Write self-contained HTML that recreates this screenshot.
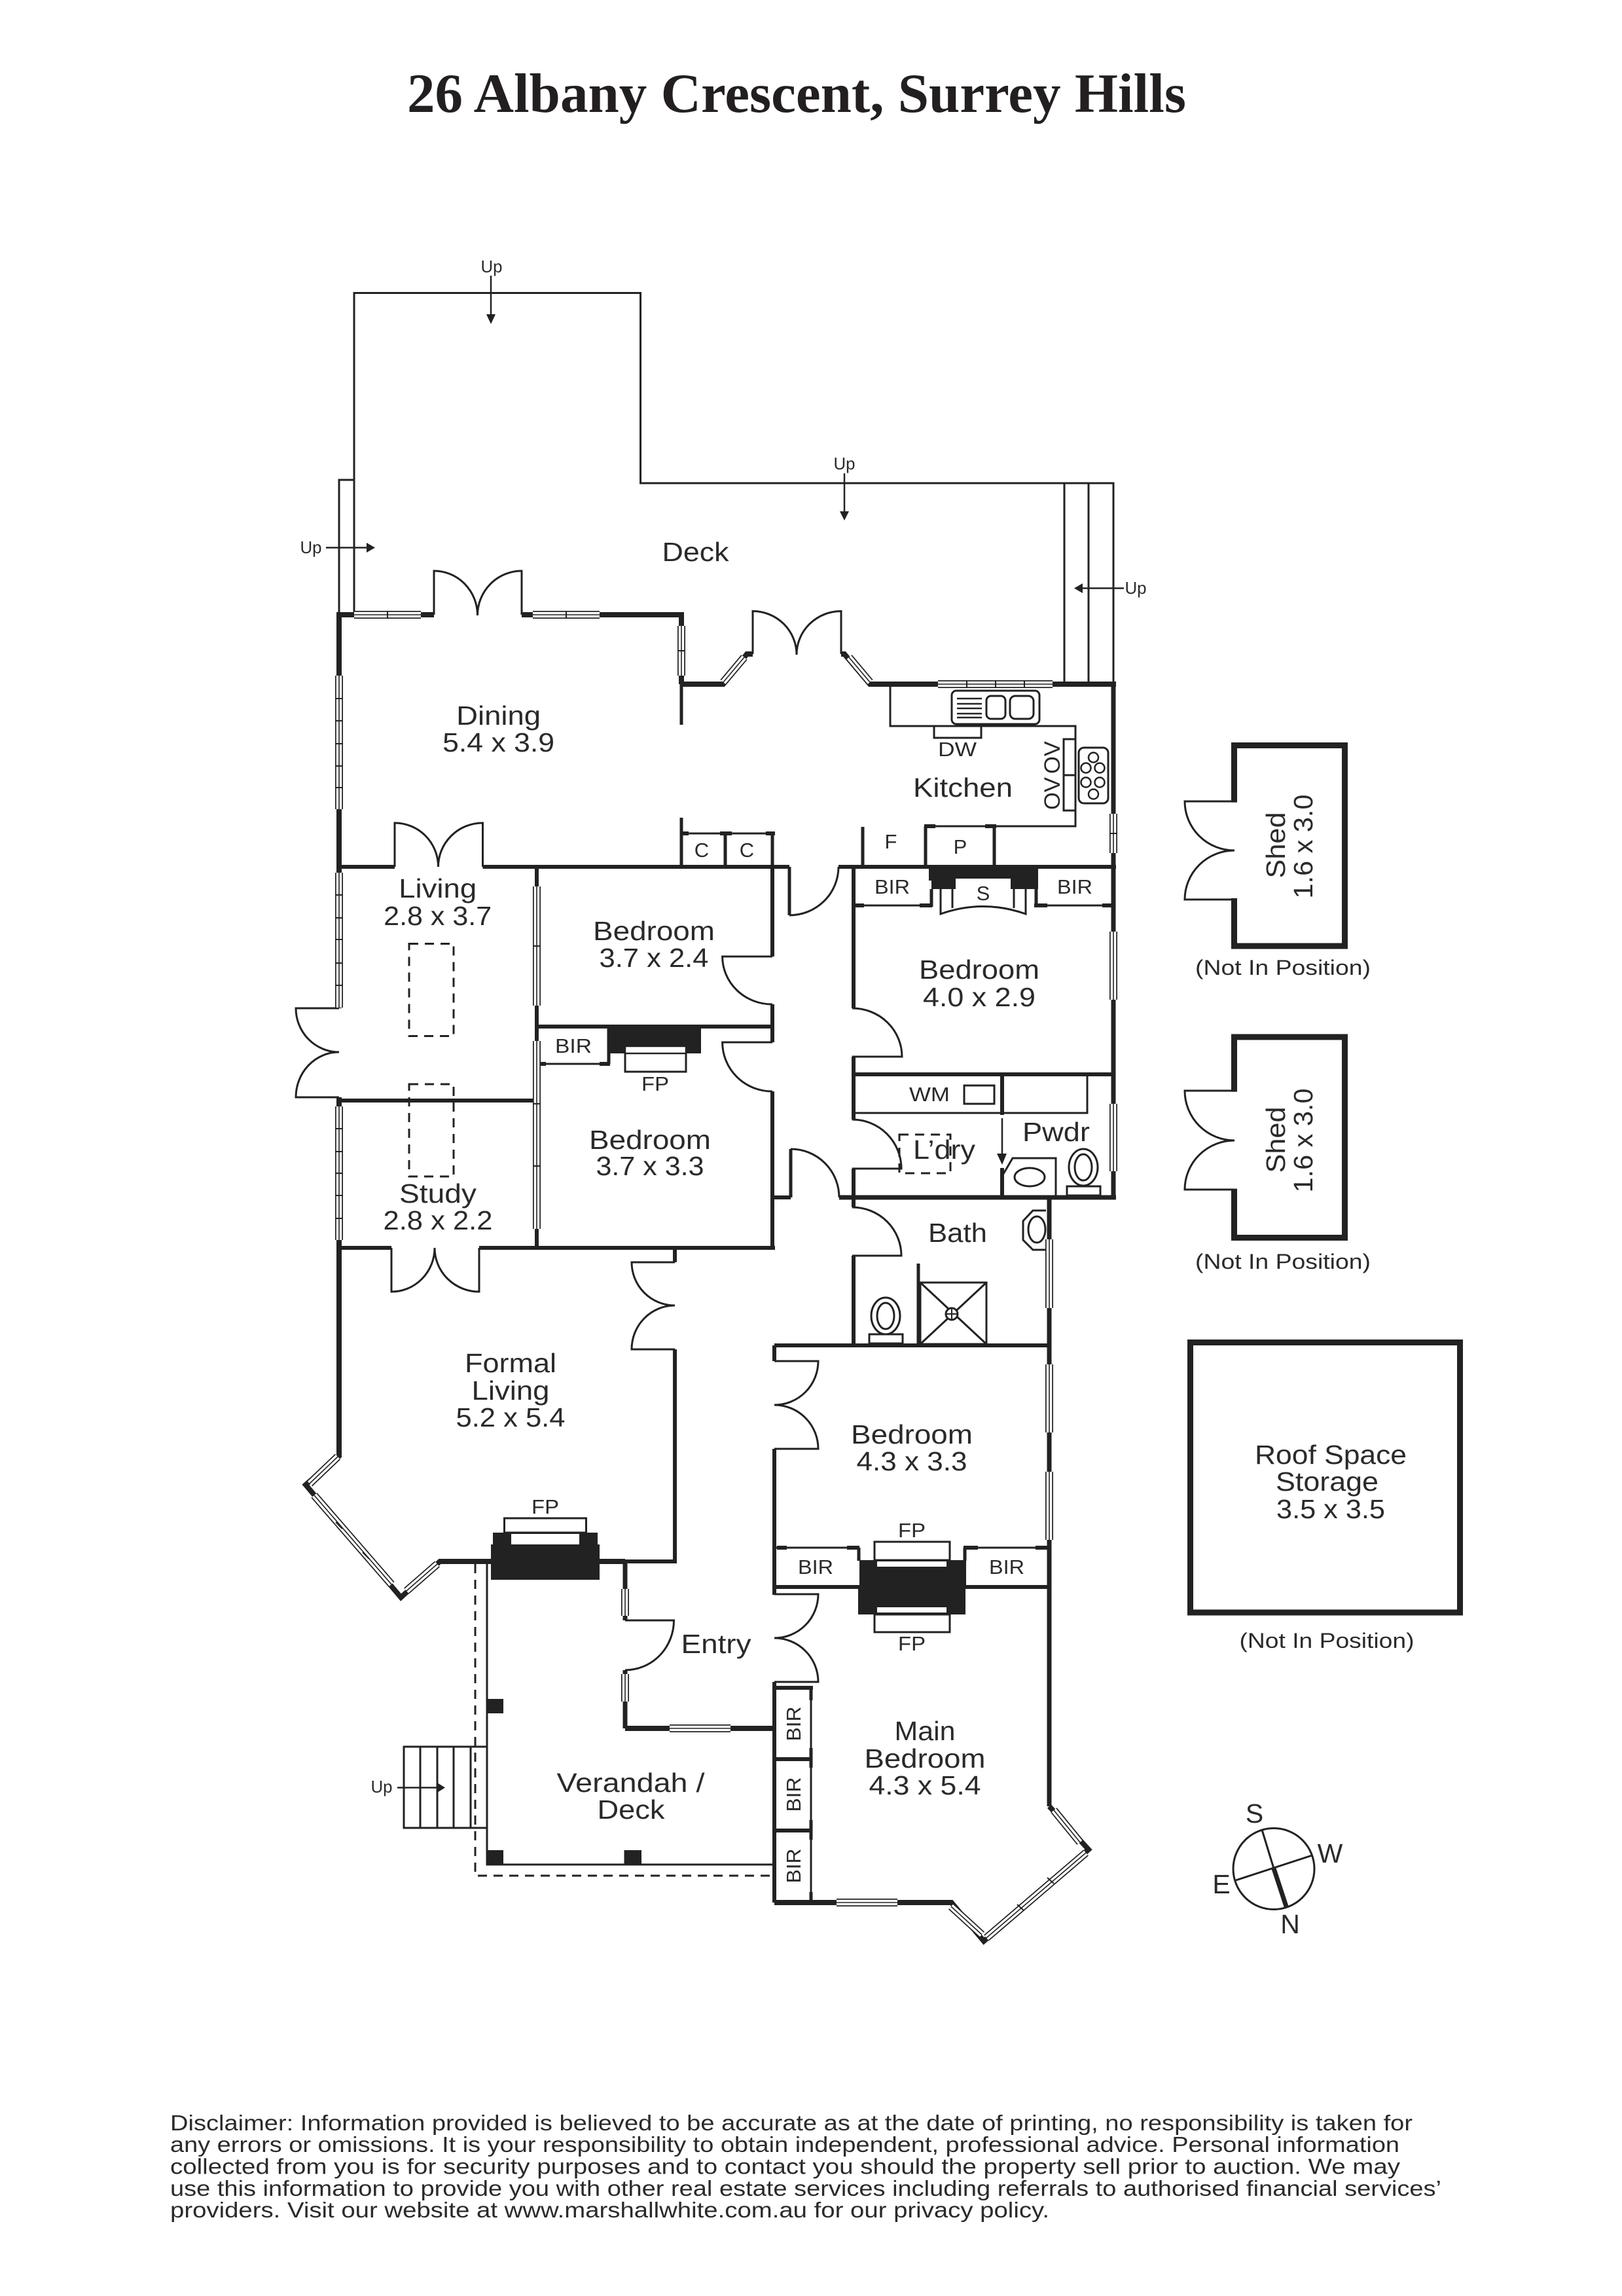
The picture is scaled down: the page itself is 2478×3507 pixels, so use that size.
<!DOCTYPE html>
<html><head><meta charset="utf-8"><title>26 Albany Crescent, Surrey Hills</title>
<style>
html,body{margin:0;padding:0;background:#fff}
svg{display:block}
text{font-family:"Liberation Sans",sans-serif;fill:#2a2a2a;text-anchor:middle}
.l{font-size:41px}.s{font-size:31px}.u{font-size:26px}.n{font-size:32px}
.d{font-size:33px;text-anchor:start}
.t{font-family:"Liberation Serif",serif;font-weight:bold;font-size:85px;fill:#231f20;text-anchor:start}
</style></head><body>
<svg xmlns="http://www.w3.org/2000/svg" width="2478" height="3507" viewBox="0 0 2478 3507">
<defs>
<path id="w" fill="none" d="M541 939H643M814 939H916M1041 956V1032M1105 1042L1137 1004M1297 1004L1329 1042M1433 1045H1608M1701 1243V1303M1701 1423V1527M1701 1686V1789M518 1032V1236M518 1333V1539M518 1690V1894M820 1354V1536M820 1590V1877M1603 1893V1998M1603 2084V2188M1603 2248V2352M955 2427V2468M955 2557V2599M1023 2640H1116M1278 2906H1371M1610 2765L1650 2814M1659 2830L1507 2960M1453 2912L1500 2955M516 2225L473 2266M480 2284L598 2420M621 2430L668 2389"/>
</defs>
<rect width="2478" height="3507" fill="#fff"/>

<text class="t" x="622" y="171" textLength="1190" lengthAdjust="spacingAndGlyphs">26 Albany Crescent, Surrey Hills</text>

<!-- deck thin outlines -->
<g fill="none" stroke="#222" stroke-width="3">
<path d="M541 939V447.5H978.5V738H1701V1042M518 939V733H541M1626 738V1042M1663 738V1042"/>
<!-- counters / fixtures -->
<path d="M1360 1048V1109H1643V1262H1413M1427 1109V1127H1499V1109"/>
<rect x="1625" y="1129" width="18" height="109"/><path d="M1625 1184H1643"/>
<rect x="1454" y="1055" width="134" height="51" rx="7"/>
<rect x="1507" y="1063" width="29" height="35" rx="7"/><rect x="1543" y="1063" width="36" height="35" rx="8"/>
<path d="M1462 1067H1500M1462 1075H1500M1462 1082H1500M1462 1090H1500M1462 1096H1500" stroke-width="2.5"/>
<rect x="1648" y="1142" width="45" height="85" rx="8"/>
<g stroke-width="2.5"><circle cx="1670.5" cy="1157" r="7.5"/><circle cx="1659" cy="1173" r="7.5"/><circle cx="1680" cy="1173" r="7.5"/><circle cx="1659" cy="1195" r="7.5"/><circle cx="1680" cy="1195" r="7.5"/><circle cx="1670.5" cy="1213" r="7.5"/></g>
<path d="M1041 1273H1180"/>
<path d="M1304 1383H1420M1585 1383H1701M823 1625H930"/>
<path d="M1437 1358V1396Q1502 1373 1567 1396V1358M1455 1358V1387M1549 1358V1387"/>
<rect x="955" y="1598" width="93" height="39"/>
<path d="M1304 1700H1661V1643"/>
<rect x="1473" y="1658" width="46" height="28"/>
<path d="M1533 1793L1547 1769H1613V1828"/>
<ellipse cx="1573" cy="1798" rx="23" ry="14"/>
<ellipse cx="1655" cy="1783" rx="22" ry="28"/><ellipse cx="1655" cy="1783" rx="13" ry="20"/>
<rect x="1630" y="1812" width="51" height="14"/>
<path d="M1598 1849H1578L1563 1865V1894L1578 1909H1597"/><ellipse cx="1584" cy="1878" rx="13" ry="20"/>
<rect x="1406" y="1959" width="101" height="94"/><path d="M1406 1959L1507 2053M1507 1959L1406 2053"/>
<circle cx="1454" cy="2007" r="9" fill="#fff"/><path d="M1445 2007H1463M1454 1998V2016" stroke-width="2"/>
<ellipse cx="1353" cy="2010" rx="22" ry="28"/><ellipse cx="1353" cy="2010" rx="13" ry="20"/>
<rect x="1328" y="2038" width="51" height="14"/>
<rect x="770.5" y="2319" width="125" height="22"/>
<rect x="1336" y="2355" width="115" height="28"/><rect x="1336" y="2466" width="115" height="27"/>
<path d="M1183 2364H1312M1474 2364H1603"/>
<path d="M744 2385V2848H1181"/>
<path d="M617 2668H744V2792H617ZM642 2668V2792M668 2668V2792M693 2668V2792M719 2668V2792"/>
<path d="M1239 2579V2906" />
<!-- dashed -->
<g stroke-dasharray="14 10"><rect x="625" y="1441.5" width="68" height="141"/><rect x="625" y="1656" width="68" height="141"/><rect x="1374" y="1733" width="78" height="59"/><path d="M726 2389V2865H1181"/></g>
</g>

<!-- walls: exterior -->
<g fill="none" stroke="#222" stroke-width="8" stroke-miterlimit="6">
<path d="M514 939H663M797 939H1041V1045M1041 1045H1105L1141 999H1150M1285 999H1290L1329 1045H1705"/>
<path d="M518 935V1540M518 1676V2224L467 2268L612.5 2440L672 2385H955"/>
<path d="M1603 2759L1663 2825L1503 2965L1453.6 2906H1183"/>
<path d="M955 2640H1183"/>
</g>
<!-- walls: interior -->
<g fill="none" stroke="#222" stroke-width="6" stroke-miterlimit="6">
<path d="M1701 1042V1829M1600 1829H1705M1282 1829H1600" stroke-width="7"/>
<path d="M1603 1829V2759" stroke-width="7"/>
<path d="M955 2385H1031V2061M1031 1906V1928"/>
<path d="M518 1324H603M737.5 1324H1206M1281 1324H1705"/>
<path d="M820 1324V1906M820 1568H1180M518 1681H820M514 1906H598M732 1906H1184"/>
<path d="M1180 1324V1461M1180 1534V1592M1180 1667V1906M1180 1829H1208"/>
<path d="M1304 1321V1540M1304 1614V1710M1304 1785V1844M1304 1918V2055M1304 1641H1701"/>
<path d="M1531 1641V1703M1531 1784V1829"/>
<path d="M1183 2055H1603M1183 2055V2079M1183 2213V2436M1183 2424H1603M1183 2569V2906"/>
<path d="M955 2385V2475M955 2551V2640" stroke-width="7"/>
<path d="M1403 1930V2055" stroke-width="5"/>
<path d="M1183 2578H1242M1183 2687H1239M1183 2796H1239"/>
<path d="M1239 2578V2597M1239 2670V2700M1239 2780V2810M1239 2890V2906" stroke-width="5"/>
<path d="M1187 2364H1202M1294 2364H1313M1472 2364H1494M1582 2364H1600M1304 1383H1320M1405 1383H1424M1580 1383H1600M1684 1383H1701M1041 1273H1052M1100 1273H1118M1170 1273H1184M1412 1262H1429M1505 1262H1522M823 1625H834M916 1625H932"/>
<path d="M1180 1273V1324M1108 1273V1324M1041 1249V1324M1041 1045V1107M1318 1263V1324M1414 1262V1324M1519 1262V1324" stroke-width="5"/>
<path d="M1206 1324V1398M1208 1829V1755M930 1568V1625M1423 1358V1385M1583 1358V1385M1312 2364V2384M1474 2364V2384" stroke-width="5"/>
<path d="M1885.5 1225.6V1138.5H2054.5V1445H1885.5V1372M1885.5 1667.6V1584H2054.5V1890.5H1885.5V1815.6" stroke-width="9"/>
<rect x="1818.5" y="2050.5" width="412" height="412.5" stroke-width="9"/>
</g>

<!-- door jambs and arcs -->
<g fill="none" stroke="#222" stroke-width="3">
<path d="M663 939V872A66.5 68 0 0 1 729.5 940M797 939V872A67.5 68 0 0 0 729.5 940"/>
<path d="M1150 999V933.5A67 66.5 0 0 1 1217 1000M1285 999V933.5A68 66.5 0 0 0 1217 1000"/>
<path d="M603 1324V1257A66.5 67 0 0 1 669.5 1324M737.5 1324V1257A68 67 0 0 0 669.5 1324"/>
<path d="M598 1906V1973A66 67 0 0 0 664 1906M732 1906V1973A68 67 0 0 1 664 1906"/>
<path d="M518 1540H452A66 67 0 0 0 518 1607A66 69 0 0 0 452 1676H518"/>
<path d="M1206 1398A75 74 0 0 0 1281 1324"/>
<path d="M1180 1461H1103.6A76 73 0 0 0 1180 1534"/>
<path d="M1180 1592H1103.6A76 75 0 0 0 1180 1667"/>
<path d="M1302 1540A76 74 0 0 1 1378 1614H1302"/>
<path d="M1302 1710A75 75 0 0 1 1377 1785H1302"/>
<path d="M1208 1755A74 74 0 0 1 1282 1829"/>
<path d="M1302 1844A75 74 0 0 1 1377 1918H1302"/>
<path d="M1031 1928H965A66 66 0 0 0 1031 1994A66 67 0 0 0 965 2061H1031"/>
<path d="M1183 2079H1250A67 67 0 0 1 1183 2146A67 67 0 0 1 1250 2213H1183"/>
<path d="M1183 2435H1250A67 67 0 0 1 1183 2502A67 67 0 0 1 1250 2569H1183"/>
<path d="M955 2475H1029.5A74.5 76 0 0 1 955 2551"/>
<path d="M1885 1224H1810A76 75 0 0 0 1886 1299A76 75 0 0 0 1810 1374H1885"/>
<path d="M1885 1666H1810A76 76 0 0 0 1886 1742A76 75 0 0 0 1810 1817H1885"/>
</g>

<!-- chimneys and posts -->
<g fill="#222">
<path d="M1419 1324H1586V1358H1544V1342H1460V1358H1423V1345H1419Z"/>
<rect x="929.5" y="1568" width="141.5" height="41"/>
<rect x="753" y="2341" width="160" height="20"/><rect x="750" y="2359" width="166" height="54"/>
<rect x="1313" y="2383" width="163" height="41"/><rect x="1311" y="2424" width="164" height="42"/>
<rect x="744" y="2595" width="25" height="22"/><rect x="744" y="2826" width="25" height="22"/><rect x="953.5" y="2826" width="26.5" height="22"/>
</g>
<g fill="#fff">
<rect x="781" y="2343" width="104" height="16"/>
<rect x="1340" y="2385" width="106" height="8"/><rect x="1340" y="2455" width="106" height="8"/>
</g>
<rect x="955" y="1598" width="93" height="11" fill="#fff" stroke="#222" stroke-width="2.5"/>

<!-- windows -->
<g fill="none">
<use href="#w" stroke="#222" stroke-width="12"/>
<use href="#w" stroke="#fff" stroke-width="8.5"/>
<use href="#w" stroke="#222" stroke-width="1.6"/>
</g>
<path fill="none" stroke="#222" stroke-width="2" d="M592 933V945M865 933V945M1477 1039V1051M1521 1039V1051M1565 1039V1051M1695 1273H1707M512 1067H524M512 1101H524M512 1136H524M512 1170H524M512 1203H524M512 1367H524M512 1402H524M512 1435H524M512 1471H524M512 1505H524M512 1724H524M512 1759H524M512 1792H524M512 1826H524M512 1861H524M814 1445H826M814 1686H826M814 1781H826M1035 994H1047M1600 2868L1610 2877M1554 2909L1564 2918M513 2325L523 2335M554 2371L564 2381"/>

<!-- arrows -->
<g stroke="#222" stroke-width="2.5" fill="none"><path d="M750 421V484M1290 723V785M498 836.5H562M1717 898.5H1650M607 2730.5H670M1531 1708V1764"/></g>
<g fill="#222">
<path d="M743 480H757L750 495ZM1283 781H1297L1290 795ZM560 829L573 836.5L560 844ZM1654 891L1641 898.5L1654 906ZM668 2723L680 2730.5L668 2738ZM1523 1762H1538L1531 1779Z"/>
</g>

<!-- compass -->
<g fill="none" stroke="#222" stroke-width="3">
<circle cx="1946" cy="2854.5" r="62"/>
<path d="M1928 2795L1946 2854M1888 2872L2004.5 2834"/>
<path d="M1946 2854L1965 2912" stroke-width="7"/>
</g>

<!-- labels -->
<g>
<text class="l" x="1062.5" y="857" textLength="102" lengthAdjust="spacingAndGlyphs">Deck</text>
<text class="l" x="761.6" y="1107" textLength="129" lengthAdjust="spacingAndGlyphs">Dining</text>
<text class="l" x="761.6" y="1148" textLength="171" lengthAdjust="spacingAndGlyphs">5.4 x 3.9</text>
<text class="l" x="1471" y="1217" textLength="152" lengthAdjust="spacingAndGlyphs">Kitchen</text>
<text class="l" x="668.7" y="1371" textLength="119" lengthAdjust="spacingAndGlyphs">Living</text>
<text class="l" x="668.7" y="1413" textLength="165" lengthAdjust="spacingAndGlyphs">2.8 x 3.7</text>
<text class="l" x="999" y="1436" textLength="186" lengthAdjust="spacingAndGlyphs">Bedroom</text>
<text class="l" x="999" y="1477" textLength="167" lengthAdjust="spacingAndGlyphs">3.7 x 2.4</text>
<text class="l" x="1496" y="1495" textLength="184" lengthAdjust="spacingAndGlyphs">Bedroom</text>
<text class="l" x="1496" y="1537" textLength="172" lengthAdjust="spacingAndGlyphs">4.0 x 2.9</text>
<text class="l" x="993" y="1755" textLength="186" lengthAdjust="spacingAndGlyphs">Bedroom</text>
<text class="l" x="993" y="1795" textLength="165" lengthAdjust="spacingAndGlyphs">3.7 x 3.3</text>
<text class="l" x="669" y="1837" textLength="118" lengthAdjust="spacingAndGlyphs">Study</text>
<text class="l" x="669" y="1878" textLength="167" lengthAdjust="spacingAndGlyphs">2.8 x 2.2</text>
<text class="l" x="780" y="2096" textLength="140" lengthAdjust="spacingAndGlyphs">Formal</text>
<text class="l" x="780" y="2138" textLength="119" lengthAdjust="spacingAndGlyphs">Living</text>
<text class="l" x="780" y="2179" textLength="167" lengthAdjust="spacingAndGlyphs">5.2 x 5.4</text>
<text class="l" x="1393" y="2205" textLength="186" lengthAdjust="spacingAndGlyphs">Bedroom</text>
<text class="l" x="1393" y="2246" textLength="169" lengthAdjust="spacingAndGlyphs">4.3 x 3.3</text>
<text class="l" x="1463" y="1897" textLength="90" lengthAdjust="spacingAndGlyphs">Bath</text>
<text class="l" x="1613.5" y="1743" textLength="103" lengthAdjust="spacingAndGlyphs">Pwdr</text>
<text class="l" x="1442.5" y="1770" textLength="95" lengthAdjust="spacingAndGlyphs">L’dry</text>
<text class="l" x="1094" y="2525" textLength="107" lengthAdjust="spacingAndGlyphs">Entry</text>
<text class="l" x="963.5" y="2737" textLength="226" lengthAdjust="spacingAndGlyphs">Verandah /</text>
<text class="l" x="964" y="2778" textLength="103" lengthAdjust="spacingAndGlyphs">Deck</text>
<text class="l" x="1413" y="2658" textLength="93" lengthAdjust="spacingAndGlyphs">Main</text>
<text class="l" x="1413" y="2700" textLength="185" lengthAdjust="spacingAndGlyphs">Bedroom</text>
<text class="l" x="1413" y="2741" textLength="171" lengthAdjust="spacingAndGlyphs">4.3 x 5.4</text>
<text class="l" x="2033" y="2236" textLength="232" lengthAdjust="spacingAndGlyphs">Roof Space</text>
<text class="l" x="2027.5" y="2277" textLength="157" lengthAdjust="spacingAndGlyphs">Storage</text>
<text class="l" x="2033" y="2319" textLength="166" lengthAdjust="spacingAndGlyphs">3.5 x 3.5</text>
<text class="l" transform="translate(1963 1291) rotate(-90)" textLength="101" lengthAdjust="spacingAndGlyphs">Shed</text>
<text class="l" transform="translate(2005 1293) rotate(-90)" textLength="159" lengthAdjust="spacingAndGlyphs">1.6 x 3.0</text>
<text class="l" transform="translate(1963 1741) rotate(-90)" textLength="101" lengthAdjust="spacingAndGlyphs">Shed</text>
<text class="l" transform="translate(2005 1742) rotate(-90)" textLength="159" lengthAdjust="spacingAndGlyphs">1.6 x 3.0</text>
<text class="l" x="1916.5" y="2784">S</text>
<text class="l" x="2032" y="2845">W</text>
<text class="l" x="1866" y="2892">E</text>
<text class="l" x="1971" y="2953">N</text>
</g>
<g>
<text class="s" x="1462.5" y="1155" textLength="59" lengthAdjust="spacingAndGlyphs">DW</text>
<text class="s" x="1361" y="1296">F</text>
<text class="s" x="1467" y="1304">P</text>
<text class="s" x="1072" y="1309">C</text>
<text class="s" x="1141" y="1309">C</text>
<text class="s" transform="translate(1619 1157) rotate(-90)" style="font-size:34px" textLength="50" lengthAdjust="spacingAndGlyphs">OV</text>
<text class="s" transform="translate(1619 1212) rotate(-90)" style="font-size:34px" textLength="50" lengthAdjust="spacingAndGlyphs">OV</text>
<text class="s" x="1363" y="1365" textLength="54" lengthAdjust="spacingAndGlyphs">BIR</text>
<text class="s" x="1642" y="1365" textLength="54" lengthAdjust="spacingAndGlyphs">BIR</text>
<text class="s" x="1502" y="1375">S</text>
<text class="s" x="876" y="1608" textLength="56" lengthAdjust="spacingAndGlyphs">BIR</text>
<text class="s" x="1001" y="1666" textLength="42" lengthAdjust="spacingAndGlyphs">FP</text>
<text class="s" x="1420" y="1682" textLength="62" lengthAdjust="spacingAndGlyphs">WM</text>
<text class="s" x="833" y="2312" textLength="42" lengthAdjust="spacingAndGlyphs">FP</text>
<text class="s" x="1393" y="2348" textLength="42" lengthAdjust="spacingAndGlyphs">FP</text>
<text class="s" x="1393" y="2521" textLength="42" lengthAdjust="spacingAndGlyphs">FP</text>
<text class="s" x="1246" y="2404" textLength="54" lengthAdjust="spacingAndGlyphs">BIR</text>
<text class="s" x="1538" y="2404" textLength="54" lengthAdjust="spacingAndGlyphs">BIR</text>
<text class="s" transform="translate(1223 2633) rotate(-90)" textLength="53" lengthAdjust="spacingAndGlyphs">BIR</text>
<text class="s" transform="translate(1223 2741) rotate(-90)" textLength="53" lengthAdjust="spacingAndGlyphs">BIR</text>
<text class="s" transform="translate(1223 2850) rotate(-90)" textLength="53" lengthAdjust="spacingAndGlyphs">BIR</text>
<text class="u" x="751" y="416" textLength="33" lengthAdjust="spacingAndGlyphs">Up</text>
<text class="u" x="1290" y="717" textLength="33" lengthAdjust="spacingAndGlyphs">Up</text>
<text class="u" x="475" y="845" textLength="33" lengthAdjust="spacingAndGlyphs">Up</text>
<text class="u" x="1735" y="907" textLength="33" lengthAdjust="spacingAndGlyphs">Up</text>
<text class="u" x="583" y="2738" textLength="33" lengthAdjust="spacingAndGlyphs">Up</text>
<text class="n" x="1960" y="1489" textLength="268" lengthAdjust="spacingAndGlyphs">(Not In Position)</text>
<text class="n" x="1960" y="1938" textLength="268" lengthAdjust="spacingAndGlyphs">(Not In Position)</text>
<text class="n" x="2027" y="2517" textLength="267" lengthAdjust="spacingAndGlyphs">(Not In Position)</text>
</g>

<!-- disclaimer -->
<text class="d" x="260" y="3254" textLength="1898" lengthAdjust="spacingAndGlyphs">Disclaimer: Information provided is believed to be accurate as at the date of printing, no responsibility is taken for</text>
<text class="d" x="260" y="3287" textLength="1878" lengthAdjust="spacingAndGlyphs">any errors or omissions. It is your responsibility to obtain independent, professional advice. Personal information</text>
<text class="d" x="260" y="3320.5" textLength="1879" lengthAdjust="spacingAndGlyphs">collected from you is for security purposes and to contact you should the property sell prior to auction. We may</text>
<text class="d" x="260" y="3354" textLength="1942" lengthAdjust="spacingAndGlyphs">use this information to provide you with other real estate services including referrals to authorised financial services’</text>
<text class="d" x="260" y="3387" textLength="1343" lengthAdjust="spacingAndGlyphs">providers. Visit our website at www.marshallwhite.com.au for our privacy policy.</text>
</svg>
</body></html>
